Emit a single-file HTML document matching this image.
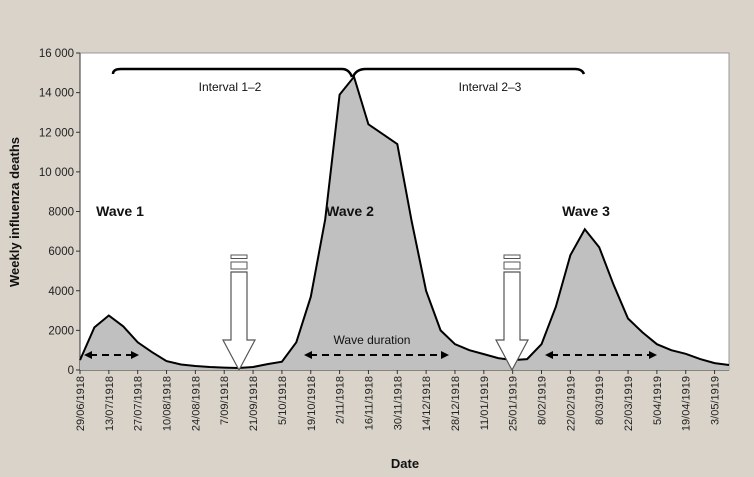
<!DOCTYPE html>
<html><head><meta charset="utf-8"><style>
body{margin:0;background:#d9d3ca;}
svg{display:block;font-family:"Liberation Sans",sans-serif;}
</style></head><body>
<svg id="chart" width="754" height="477" viewBox="0 0 754 477">
<rect x="0" y="0" width="754" height="477" fill="#d9d3ca"/>
<rect x="80" y="53" width="649" height="317" fill="#fff" stroke="#999" stroke-width="1"/>
<g id="yaxis"></g>
<g id="xaxis"></g>
<g id="series"></g>
<g id="annot"></g>
<text x="0" y="0" transform="translate(19,212) rotate(-90)" text-anchor="middle" font-size="13" font-weight="bold" fill="#111">Weekly influenza deaths</text>
<text x="405" y="468" text-anchor="middle" font-size="13" font-weight="bold" fill="#111">Date</text>
</svg>
<script>
const tickLabels=["29/06/1918","13/07/1918","27/07/1918","10/08/1918","24/08/1918","7/09/1918","21/09/1918","5/10/1918","19/10/1918","2/11/1918","16/11/1918","30/11/1918","14/12/1918","28/12/1918","11/01/1919","25/01/1919","8/02/1919","22/02/1919","8/03/1919","22/03/1919","5/04/1919","19/04/1919","3/05/1919"];
const yTicks=[0,2000,4000,6000,8000,10000,12000,14000,16000];
const yTickLabels=["0","2000","4000","6000","8000","10 000","12 000","14 000","16 000"];
const weeks=[0,1,2,3,4,5,6,7,8,9,10,11,12,13,14,15,16,17,18,19,20,21,22,23,24,25,26,27,28,29,30,31,32,33,34,35,36,37,38,39,40,41,42,43,44,45];
const deaths=[500,2150,2750,2200,1400,900,450,280,200,150,120,100,150,300,420,1400,3700,7600,13900,14800,12400,11900,11400,7500,4000,2000,1300,1000,800,600,500,550,1300,3200,5800,7100,6200,4300,2600,1900,1300,1000,820,550,350,250];
const X0=80,X1=729,Y0=370,Y1=53;
const xs=w=>X0+w*(X1-X0)/45;
const ys=v=>Y0-v*(Y0-Y1)/16000;
const NS="http://www.w3.org/2000/svg";
function mk(tag,attrs,parent){const e=document.createElementNS(NS,tag);for(const k in attrs)e.setAttribute(k,attrs[k]);parent.appendChild(e);return e;}
const ya=document.getElementById('yaxis'),xa=document.getElementById('xaxis'),se=document.getElementById('series'),an=document.getElementById('annot');
yTicks.forEach((t,i)=>{
 const l=mk('line',{x1:X0-4,x2:X0,y1:ys(t),y2:ys(t),stroke:'#333'},ya);
 
 
 const tx=mk('text',{x:X0-6,y:ys(t)+4,'text-anchor':'end','font-size':'11.5',fill:'#222'},ya);
 tx.textContent=yTickLabels[i];
 
 
});
const axl=mk('line',{x1:X0,x2:X0,y1:Y1,y2:Y0,stroke:'#333'},ya);


let d='M'+xs(weeks[0])+','+Y0;
weeks.forEach((w,i)=>{d+=' L'+xs(w).toFixed(1)+','+ys(deaths[i]).toFixed(1);});
d+=' L'+xs(weeks[weeks.length-1])+','+Y0+' Z';
const area=mk('path',{d:d,fill:'#c0c0c0',stroke:'none'},se);


let ld='';
weeks.forEach((w,i)=>{ld+=(i?' L':'M')+xs(w).toFixed(1)+','+ys(deaths[i]).toFixed(1);});
const line=mk('path',{d:ld,fill:'none',stroke:'#000','stroke-width':'2'},se);


const xl=mk('line',{x1:X0,x2:X1,y1:Y0,y2:Y0,stroke:'#333'},xa);


tickLabels.forEach((t,i)=>{
 const x=xs(i*2);
 const l=mk('line',{x1:x,x2:x,y1:Y0,y2:Y0+4,stroke:'#333'},xa);
 
 
 const tx=mk('text',{transform:`translate(${x+4},${Y0+6}) rotate(-90)`,'text-anchor':'end','font-size':'11',fill:'#222'},xa);
 tx.textContent=t;
 
 
});
function txt(x,y,s,sz,bold,name){const t=mk('text',{x:x,y:y,'text-anchor':'middle','font-size':sz,'font-weight':bold?'bold':'normal',fill:'#111'},an);t.textContent=s;}
txt(230,91,'Interval 1–2',12,false,'interval-1-2-label');
txt(490,91,'Interval 2–3',12,false,'interval-2-3-label');
txt(120,216,'Wave 1',14,true,'wave-1-label');
txt(350,216,'Wave 2',14,true,'wave-2-label');
txt(586,216,'Wave 3',14,true,'wave-3-label');
txt(372,344,'Wave duration',12,false,'wave-duration-label');
function brace(x1,x2,name){const p=mk('path',{d:`M${x1},74 Q${x1},69 ${x1+8},69 L${x2-10},69 Q${x2-3},69 ${x2},77`,fill:'none',stroke:'#000','stroke-width':'2.5'},an);}
brace(113,352,'interval-1-2-brace');
const b2=mk('path',{d:'M353,77 Q356,69 366,69 L575,69 Q582,69 584,74',fill:'none',stroke:'#000','stroke-width':'2.5'},an);


function dbl(x1,x2,name){const g=mk('g',{},an);
 mk('line',{x1:x1+6,x2:x2-6,y1:355,y2:355,stroke:'#000','stroke-width':'2','stroke-dasharray':'7,5'},g);
 mk('path',{d:`M${x1},355 L${x1+8},351 L${x1+8},359 Z`,fill:'#000'},g);
 mk('path',{d:`M${x2},355 L${x2-8},351 L${x2-8},359 Z`,fill:'#000'},g);}
dbl(84,139,'wave-1-duration-arrow');dbl(304,449,'wave-2-duration-arrow');dbl(545,657,'wave-3-duration-arrow');
function down(cx,name){const g=mk('g',{},an);
 mk('rect',{x:cx-8,y:255,width:16,height:3.5,fill:'#fff',stroke:'#555','stroke-width':'1'},g);
 mk('rect',{x:cx-8,y:262,width:16,height:7,fill:'#fff',stroke:'#555','stroke-width':'1'},g);
 mk('path',{d:`M${cx-8},272 L${cx+8},272 L${cx+8},340 L${cx+16},340 L${cx},370 L${cx-16},340 L${cx-8},340 Z`,fill:'#fff',stroke:'#555','stroke-width':'1.2'},g);}
down(239,'trough-arrow-1');down(512,'trough-arrow-2');
</script>
</body></html>
